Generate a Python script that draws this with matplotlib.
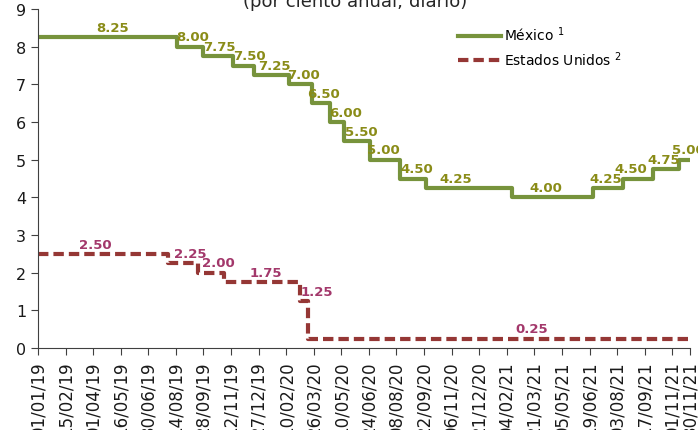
import pandas as pd
import numpy as np
import matplotlib.pyplot as plt
import matplotlib.dates as mdates

# Tasa objetivo Banxico (fecha efectiva del cambio, nivel)
mx_dates = ["2019-01-01", "2019-08-16", "2019-09-27", "2019-11-15", "2019-12-20",
            "2020-02-14", "2020-03-23", "2020-04-22", "2020-05-15", "2020-06-26",
            "2020-08-14", "2020-09-25", "2021-02-12", "2021-06-25", "2021-08-13",
            "2021-10-01", "2021-11-12", "2021-11-30"]
mx_rates = [8.25, 8.00, 7.75, 7.50, 7.25, 7.00, 6.50, 6.00, 5.50, 5.00,
            4.50, 4.25, 4.00, 4.25, 4.50, 4.75, 5.00, 5.00]

# Fed funds, limite superior
us_dates = ["2019-01-01", "2019-08-01", "2019-09-19", "2019-10-31",
            "2020-03-04", "2020-03-16", "2021-11-30"]
us_rates = [2.50, 2.25, 2.00, 1.75, 1.25, 0.25, 0.25]

# etiquetas: fecha donde se centra el texto y valor mostrado
mx_label_dates = ["2019-05-02", "2019-09-10", "2019-10-24", "2019-12-12", "2020-01-22",
                  "2020-03-10", "2020-04-11", "2020-05-17", "2020-06-12", "2020-07-17",
                  "2020-09-10", "2020-11-13", "2021-04-09", "2021-07-15", "2021-08-26",
                  "2021-10-18", "2021-11-28"]
mx_label_vals = [8.25, 8.00, 7.75, 7.50, 7.25, 7.00, 6.50, 6.00, 5.50, 5.00,
                 4.50, 4.25, 4.00, 4.25, 4.50, 4.75, 5.00]
us_label_dates = ["2019-04-04", "2019-09-07", "2019-10-22", "2020-01-07",
                  "2020-03-31", "2021-03-17"]
us_label_vals = [2.50, 2.25, 2.00, 1.75, 1.25, 0.25]

MX_LINE = "#77933c"
MX_TEXT = "#8a8c18"
US_LINE = "#953735"
US_TEXT = "#a3386b"

mx_d = pd.to_datetime(mx_dates)
us_d = pd.to_datetime(us_dates)
start = pd.Timestamp("2019-01-01")
end = pd.Timestamp("2021-11-30")

fig = plt.figure(figsize=(6.98, 4.31), dpi=100)
ax = fig.add_axes([38/698, 1 - 349/431, 652/698, 339/431])

ax.plot(mx_d, mx_rates, drawstyle="steps-post", color=MX_LINE, lw=3,
        label="México $^{1}$")
ax.plot(us_d, us_rates, drawstyle="steps-post", color=US_LINE, lw=3,
        dashes=(2.5, 1.2), label="Estados Unidos $^{2}$")

for d, v in zip(pd.to_datetime(mx_label_dates), mx_label_vals):
    ax.annotate(f"{v:.2f}", (d, v), xytext=(0, 7), textcoords="offset points",
                ha="center", va="center", color=MX_TEXT, fontsize=9.5,
                fontweight="bold", annotation_clip=False)
for d, v in zip(pd.to_datetime(us_label_dates), us_label_vals):
    ax.annotate(f"{v:.2f}", (d, v), xytext=(0, 7), textcoords="offset points",
                ha="center", va="center", color=US_TEXT, fontsize=9.5,
                fontweight="bold", annotation_clip=False)

ticks = list(pd.date_range(start, end, freq="45D")) + [end]
ax.set_xticks(ticks)
ax.xaxis.set_major_formatter(mdates.DateFormatter("%d/%m/%y"))
ax.tick_params(axis="x", rotation=90, labelsize=12, length=5, pad=4,
               color="#404040", labelcolor="#1a1a1a")
ax.tick_params(axis="y", labelsize=11.5, length=5, color="#404040",
               labelcolor="#1a1a1a")
ax.set_xlim(start, end)
ax.set_ylim(0, 9)
ax.set_yticks(range(0, 10))

for s in ["top", "right"]:
    ax.spines[s].set_visible(False)
for s in ["left", "bottom"]:
    ax.spines[s].set_color("#404040")

ax.legend(loc="upper left", bbox_to_anchor=(0.625, 0.99), frameon=False,
          fontsize=10, handlelength=3.1, handletextpad=0.2, labelspacing=0.45)

fig.text(355/698, 1 - 7/431, "(por ciento anual; diario)", ha="center",
         va="baseline", fontsize=13, color="#262626")

fig.savefig("out.png", dpi=100)
